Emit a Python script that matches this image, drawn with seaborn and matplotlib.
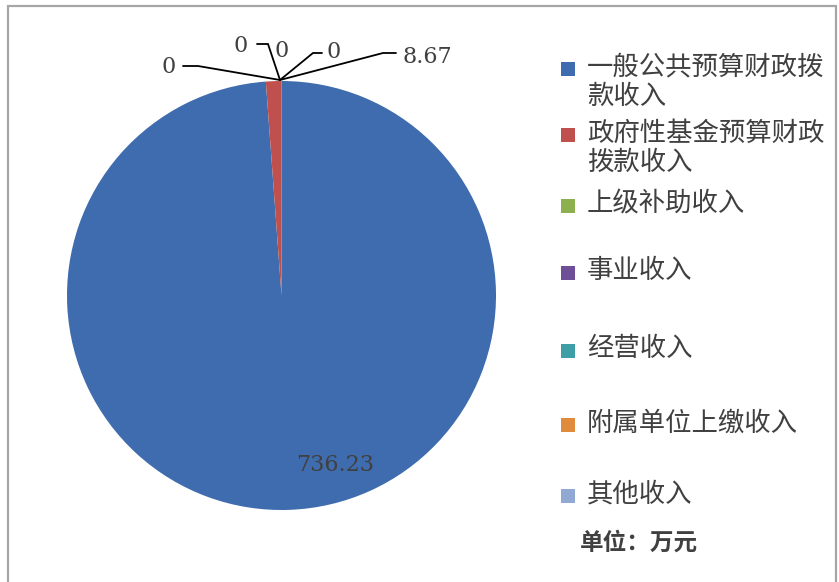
import matplotlib
matplotlib.use("Agg")
import matplotlib.pyplot as plt
from matplotlib.patches import Rectangle
import seaborn as sns

# ---- data ----
categories = ["一般公共预算财政拨\n款收入", "政府性基金预算财政\n拨款收入", "上级补助收入",
              "事业收入", "经营收入", "附属单位上缴收入", "其他收入"]
values = [736.23, 8.67, 0, 0, 0, 0, 0]
colors = ["#3F6CAE", "#C0504D", "#8DB04F", "#6E4F97", "#3E9EA6", "#E08A3C", "#8FA9D3"]
unit_text = "单位：万元"

sns.set_theme(style="white")
plt.rcParams['font.family'] = ['Noto Sans CJK SC', 'DejaVu Sans']

W, H = 839, 582
fig = plt.figure(figsize=(W / 100, H / 100), dpi=100)
fig.patch.set_facecolor("white")

# outer border
fig.add_artist(Rectangle((8 / W, -0.05), (836 - 8) / W, 1.05 - 6 / H,
                         transform=fig.transFigure, fill=False,
                         edgecolor="#A6A6A6", linewidth=1.6))

cx, cy, R = 281.5, 295.5, 214.5
ax = fig.add_axes([(cx - R) / W, (H - cy - R) / H, 2 * R / W, 2 * R / H])
pal = sns.color_palette(colors)
wedges, _ = ax.pie(values, colors=pal, startangle=90, counterclock=False,
                   radius=1, wedgeprops=dict(linewidth=0))
ax.set_xlim(-1, 1)
ax.set_ylim(-1, 1)
ax.axis("off")


def px2d(x, y):
    return ((x - cx) / R, (cy - y) / R)


# label layout: (text x, text y, ha, line start x, elbow x, line y)
label_layout = [
    (335, 465, "center", None, None, None),
    (402, 57, "left", 396, 383, 53),
    (327, 52, "left", 322, 313, 53),
    (282, 51, "center", None, None, None),
    (248, 46, "right", 257, 268, 44),
    (176, 67, "right", 183, 198, 66),
    (282, 51, "center", None, None, None),
]
tip = px2d(280, 80)
num_font = ["DejaVu Serif"]
used = set()
for v, (lx, ly, ha, sx, ex, ey) in zip(values, label_layout):
    tx, ty = px2d(lx, ly)
    if (lx, ly) not in used:
        ax.text(tx, ty, f"{v:g}", ha=ha, va="center", fontsize=16,
                color="#404040", family=num_font, clip_on=False)
        used.add((lx, ly))
    if sx is not None:
        p0 = px2d(sx, ey)
        p1 = px2d(ex, ey)
        ax.plot([p0[0], p1[0], tip[0]], [p0[1], p1[1], tip[1]],
                color="black", linewidth=1.3, clip_on=False,
                solid_joinstyle="miter")

# legend (manual, Excel-like placement)
legend_y = [69, 135, 206, 273, 351, 425, 496]
sq = 14
for lab, col, y in zip(categories, colors, legend_y):
    fig.add_artist(Rectangle((561 / W, (H - y - sq / 2) / H), sq / W, sq / H,
                             transform=fig.transFigure, facecolor=col,
                             edgecolor="none"))
    lines = lab.split("\n")
    for i, ln in enumerate(lines):
        fig.text(587 / W, (H - (y - 2 + i * 29.5)) / H, ln, ha="left", va="center",
                 fontsize=19, color="#404040")
fig.text(580 / W, (H - 543) / H, unit_text, ha="left", va="center",
         fontsize=17, fontweight="bold", color="#404040")

fig.savefig("out.png", dpi=100, facecolor="white")
